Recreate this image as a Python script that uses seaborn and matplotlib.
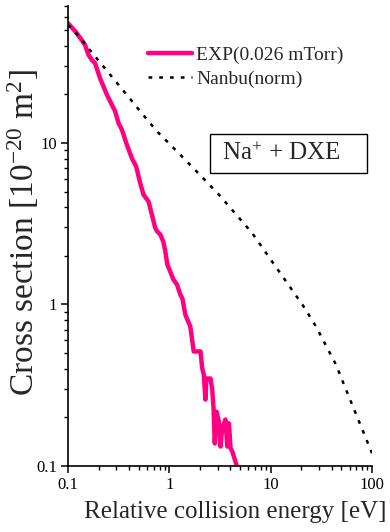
import matplotlib
matplotlib.use("Agg")
import matplotlib.pyplot as plt
import seaborn as sns
import pandas as pd
from matplotlib.patches import Rectangle
from matplotlib.ticker import LogLocator, FixedLocator, NullFormatter, FixedFormatter

# ---- data ----
exp_energy = [0.1, 0.122, 0.147, 0.159, 0.172, 0.185, 0.207, 0.242, 0.261, 0.292,
              0.315, 0.340, 0.381, 0.427, 0.471, 0.516, 0.557, 0.624, 0.727, 0.761,
              0.815, 0.872, 0.913, 0.955, 1.02, 1.096, 1.19, 1.285, 1.345, 1.44,
              1.61, 1.74, 2.03, 2.11, 2.19, 2.27, 2.32, 2.55, 2.65, 2.73,
              2.81, 2.92, 3.08, 3.2, 3.32, 3.58, 3.73, 3.87, 4.02, 4.18, 4.68]
exp_cs = [55.2, 47.9, 40.6, 35.2, 32.7, 31.2, 25.2, 19.9, 18.1, 15.7,
          13.3, 12.1, 9.75, 8.05, 7.15, 5.64, 4.78, 4.34, 2.97, 2.83,
          2.71, 2.45, 2.13, 1.77, 1.60, 1.43, 1.33, 1.15, 1.09, 0.863,
          0.731, 0.512, 0.512, 0.403, 0.367, 0.258, 0.348, 0.348, 0.298, 0.227,
          0.138, 0.217, 0.189, 0.132, 0.171, 0.194, 0.132, 0.184, 0.129, 0.123, 0.098]

nanbu_energy = [0.1, 0.123, 0.2, 0.3, 0.5, 0.755, 1.0, 2.03, 3.2, 6.59, 10, 21.2, 28.3, 44, 62, 100]
nanbu_cs = [54, 47, 32.4, 23.8, 16.1, 11.8, 9.9, 6.3, 4.67, 2.76, 1.90, 0.97, 0.723, 0.425, 0.25, 0.12]

x_ticks = [0.1, 1, 10, 100]
x_ticklabels = ["0.1", "1", "10", "100"]
y_ticks = [0.1, 1, 10]
y_ticklabels = ["0.1", "1", "10"]

exp_label = "EXP(0.026 mTorr)"
nanbu_label = "Nanbu(norm)"

# ---- style ----
sns.set_style("ticks")
plt.rcParams["font.family"] = ["Liberation Serif", "DejaVu Serif"]
plt.rcParams["mathtext.fontset"] = "custom"
plt.rcParams["mathtext.rm"] = "Liberation Serif"
plt.rcParams["mathtext.it"] = "Liberation Serif:italic"

W, H = 390, 532
fig = plt.figure(figsize=(W / 100, H / 100), dpi=100)
ax = fig.add_axes([68 / W, 1 - 466 / H, (372 - 68) / W, (466 - 6.5) / H])

df_exp = pd.DataFrame({"energy": exp_energy, "cs": exp_cs})
df_nan = pd.DataFrame({"energy": nanbu_energy, "cs": nanbu_cs})

sns.lineplot(data=df_exp, x="energy", y="cs", ax=ax, color="#FF0080", lw=3.2,
             sort=False, estimator=None, label=exp_label, zorder=2)
sns.lineplot(data=df_nan, x="energy", y="cs", ax=ax, color="black", lw=1.8,
             sort=False, estimator=None, label=nanbu_label, zorder=3)
ax.lines[1].set_linestyle((0, (1.5, 2.8)))

ax.set_xscale("log")
ax.set_yscale("log")
ax.set_xlim(0.1, 100)
ax.set_ylim(0.1, 70)

ax.xaxis.set_major_locator(FixedLocator(x_ticks))
ax.xaxis.set_major_formatter(FixedFormatter(x_ticklabels))
ax.xaxis.set_minor_locator(LogLocator(base=10, subs=range(2, 10)))
ax.xaxis.set_minor_formatter(NullFormatter())
ax.yaxis.set_major_locator(FixedLocator(y_ticks))
ax.yaxis.set_major_formatter(FixedFormatter(y_ticklabels))
ax.yaxis.set_minor_locator(LogLocator(base=10, subs=range(2, 10)))
ax.yaxis.set_minor_formatter(NullFormatter())

for s in ["top", "right"]:
    ax.spines[s].set_visible(False)
for s in ["left", "bottom"]:
    ax.spines[s].set_linewidth(1.2)
    ax.spines[s].set_color("black")

ax.tick_params(which="major", direction="out", length=5, width=1.1, labelsize=12,
               colors="black", pad=3)
ax.tick_params(which="minor", direction="out", length=3, width=1.0, colors="black")

ax.set_xlabel("Relative collision energy [eV]", fontsize=18)
ax.xaxis.set_label_coords((235 - 68) / (372 - 68), -(512 - 466) / (466 - 6.5))
ax.xaxis.label.set_va("center")
ax.set_ylabel(r"Cross section [10$\mathregular{^{-20}}$ m$\mathregular{^{2}}$]", fontsize=24)
ax.yaxis.set_label_coords(-(68 - 23) / (372 - 68), (466 - 232) / (466 - 6.5))
ax.yaxis.label.set_va("center")

leg = ax.legend(loc="upper left", bbox_to_anchor=(148 / W, 1 - 46 / H),
                bbox_transform=fig.transFigure, frameon=False, fontsize=14,
                handlelength=2.27, handletextpad=0.2, labelspacing=0.36,
                borderpad=0, borderaxespad=0)

# annotation box
fig.patches.append(Rectangle((210 / W, 1 - 173 / H), (367 - 210) / W, (173 - 134) / H,
                             transform=fig.transFigure, fill=False, edgecolor="black",
                             lw=1.0, zorder=5))
fig.text(222 / W, 1 - 154 / H, r"Na$\mathregular{^{+}}$ + DXE", fontsize=18,
         ha="left", va="center")

fig.savefig("out.png", dpi=100, facecolor="white")
